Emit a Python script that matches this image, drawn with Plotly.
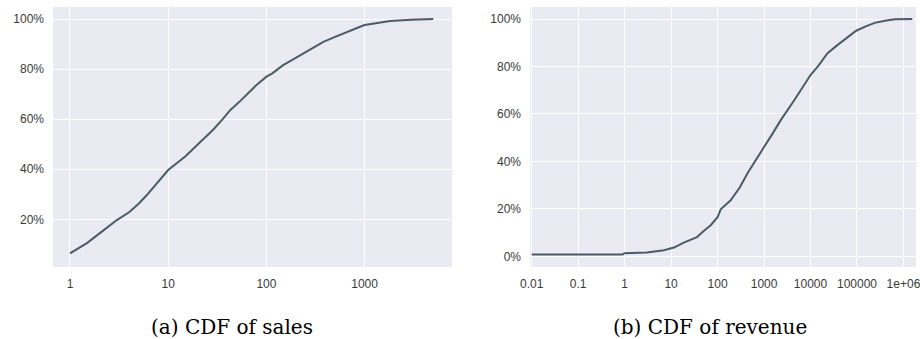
import plotly.graph_objects as go

# CDF of sales (units per item) -- percent of items with sales <= x
sales_x = [1, 1.5, 2, 3, 4, 5, 6, 7.6, 10, 15, 20, 29, 35, 43, 55, 65, 80, 100,
           115, 127, 148, 180, 238, 300, 380, 480, 605, 750, 900, 1000, 1300,
           1820, 3000, 5000]
sales_cdf = [6.4, 10.6, 14.4, 19.7, 22.8, 26.2, 29.5, 34.4, 39.7, 45.2, 49.8,
             56.0, 59.5, 63.7, 67.5, 70.3, 73.8, 77.0, 78.3, 79.6, 81.6, 83.5,
             86.3, 88.6, 90.9, 92.6, 94.3, 95.6, 96.9, 97.6, 98.4, 99.2, 99.7,
             100.0]

# CDF of revenue -- percent of items with revenue <= x
revenue_x = [0.01, 0.9, 1, 3, 7, 11.5, 18.7, 36, 51, 71, 100, 117, 191, 300,
             437, 700, 1000, 1500, 2290, 4460, 7000, 10000, 15000, 23000,
             35000, 53000, 96000, 150000, 240000, 400000, 650000, 1550000]
revenue_cdf = [0.8, 0.8, 1.3, 1.6, 2.6, 3.7, 5.8, 8.1, 10.8, 13.1, 16.5, 19.8,
               23.6, 29.0, 34.9, 41.0, 46.1, 51.5, 57.4, 65.8, 71.5, 76.4,
               80.5, 85.5, 88.5, 91.1, 95.1, 96.8, 98.4, 99.3, 99.9, 100.0]

sales_ticks = [1, 10, 100, 1000]
sales_ticklabels = ["1", "10", "100", "1000"]
revenue_ticks = [0.01, 0.1, 1, 10, 100, 1000, 10000, 100000, 1000000]
revenue_ticklabels = ["0.01", "0.1", "1", "10", "100", "1000", "10000",
                      "100000", "1e+06"]
sales_yticks = [20, 40, 60, 80, 100]
revenue_yticks = [0, 20, 40, 60, 80, 100]
captions = ["(a) CDF of sales", "(b) CDF of revenue"]

W, H = 920, 339
LINE = "#4b5c67"
BG = "#eaeaf2"
TICK_FONT = dict(family="Liberation Sans, Arial, sans-serif", size=12, color="#3a3a3a")

fig = go.Figure()
fig.add_trace(go.Scatter(x=sales_x, y=sales_cdf, mode="lines",
                         line=dict(color=LINE, width=2), xaxis="x", yaxis="y",
                         showlegend=False))
fig.add_trace(go.Scatter(x=revenue_x, y=revenue_cdf, mode="lines",
                         line=dict(color=LINE, width=2), xaxis="x2", yaxis="y2",
                         showlegend=False))


def xdom(l, r):
    return [l / W, r / W]


def ydom(top, bottom):
    return [1 - bottom / H, 1 - top / H]


axis_common = dict(showgrid=True, gridcolor="white", gridwidth=1.3,
                   zeroline=False, showline=False, ticks="",
                   tickfont=TICK_FONT, ticklabelstandoff=8,
                   automargin=False, ticklabeloverflow="allow")

fig.update_layout(
    width=W, height=H,
    margin=dict(l=0, r=0, t=0, b=0),
    paper_bgcolor="white",
    plot_bgcolor=BG,
    xaxis=dict(domain=xdom(53, 452), type="log",
               range=[-0.173, 3.89], tickvals=sales_ticks,
               ticktext=sales_ticklabels, anchor="y", **axis_common),
    yaxis=dict(domain=ydom(7, 267), range=[0.96, 104.8],
               tickvals=sales_yticks,
               ticktext=[f"{v}%" for v in sales_yticks], anchor="x",
               **axis_common),
    xaxis2=dict(domain=xdom(530, 916), type="log",
                range=[-2.037, 6.27], tickvals=revenue_ticks,
                ticktext=revenue_ticklabels, anchor="y2", **axis_common),
    yaxis2=dict(domain=ydom(7, 267), range=[-4.5, 105.1],
                tickvals=revenue_yticks,
                ticktext=[f"{v}%" for v in revenue_yticks], anchor="x2",
                **axis_common),
)

for text, cx in zip(captions, (232, 709.5)):
    fig.add_annotation(text=text, x=cx / W, y=1 - 327 / H, xref="paper",
                       yref="paper", showarrow=False, xanchor="center",
                       yanchor="middle",
                       font=dict(family="DejaVu Serif, serif", size=20,
                                 color="black"))

fig.write_html("out.html")
